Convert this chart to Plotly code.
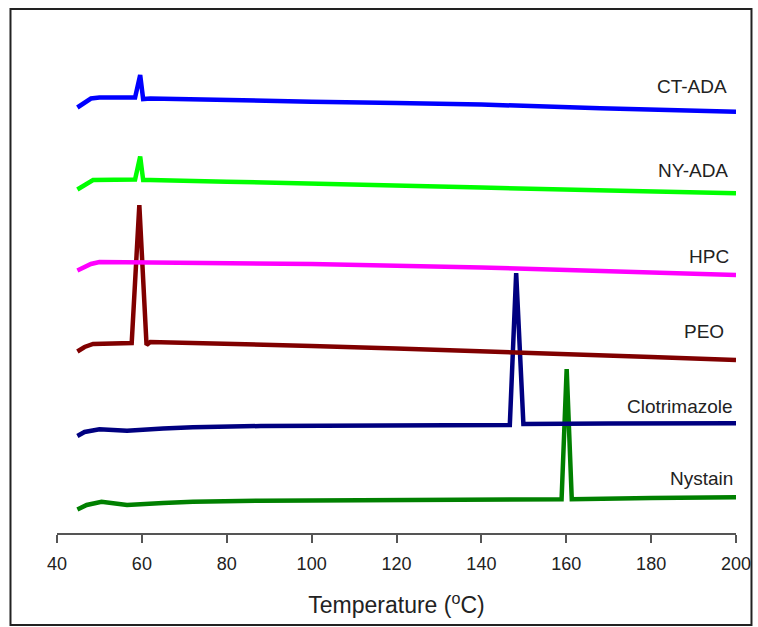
import plotly.graph_objects as go

# Temperature (°C) and offset heat-flow (a.u.)
ct_ada_t = [44.8, 46, 48, 50, 58.4, 59.6, 60.3, 62, 80, 100, 120, 140, 168, 200]
ct_ada_v = [42.55, 42.9, 43.45, 43.55, 43.55, 45.8, 43.4, 43.45, 43.35, 43.13, 43.0, 42.85, 42.47, 42.13]

ny_ada_t = [44.8, 46.5, 48.5, 58.4, 59.6, 60.3, 62, 80, 100, 140, 170, 200]
ny_ada_v = [34.35, 34.8, 35.3, 35.35, 37.65, 35.3, 35.3, 35.13, 34.97, 34.55, 34.25, 33.97]

hpc_t = [44.8, 46, 48, 50, 80, 100, 140, 170, 200]
hpc_v = [26.25, 26.5, 26.9, 27.1, 27.0, 26.9, 26.55, 26.2, 25.8]

peo_t = [44.8, 46.5, 48.5, 57.6, 59.4, 61.1, 62, 80, 100, 120, 140, 160, 180, 200]
peo_v = [18.15, 18.6, 18.9, 19.0, 32.8, 18.8, 19.1, 18.95, 18.7, 18.45, 18.2, 17.9, 17.6, 17.3]

clo_t = [44.8, 46.5, 50, 53, 56.5, 65, 72, 88, 110, 146.7, 148.2, 149.9, 170, 200]
clo_v = [9.7, 10.1, 10.37, 10.3, 10.23, 10.45, 10.57, 10.7, 10.75, 10.8, 26.0, 10.9, 10.95, 10.97]

nys_t = [44.8, 47, 50.5, 53, 56.5, 65, 72, 88, 120, 158.9, 160.1, 161.3, 180, 200]
nys_v = [2.35, 2.8, 3.13, 3.0, 2.8, 3.0, 3.13, 3.23, 3.3, 3.37, 16.4, 3.37, 3.5, 3.57]

names = ["CT-ADA", "NY-ADA", "HPC", "PEO", "Clotrimazole", "Nystain"]
colors = ["#0000FF", "#00FF00", "#FF00FF", "#800000", "#000080", "#008000"]
label_x = [198.3, 198.7, 198.8, 197.6, 199.7, 199.8]
label_y = [44.63, 36.3, 27.63, 20.2, 12.63, 5.5]

xs = [ct_ada_t, ny_ada_t, hpc_t, peo_t, clo_t, nys_t]
ys = [ct_ada_v, ny_ada_v, hpc_v, peo_v, clo_v, nys_v]

x_ticks = [40, 60, 80, 100, 120, 140, 160, 180, 200]

FONT = "Arial, Liberation Sans, sans-serif"

fig = go.Figure()
# draw bottom-up so that upper curves overlap as in the picture
order = [5, 4, 3, 2, 1, 0]
for i in order:
    fig.add_trace(go.Scatter(
        x=xs[i], y=ys[i], mode="lines", name=names[i],
        line=dict(color=colors[i], width=4.5),
        showlegend=False, hoverinfo="skip"))

for n, lx, ly in zip(names, label_x, label_y):
    fig.add_annotation(x=lx, y=ly, xref="x", yref="y", text=n, showarrow=False,
                       xanchor="right", yanchor="middle",
                       font=dict(family=FONT, size=19, color="#222222"))

# outer frame
fig.add_shape(type="rect", xref="paper", yref="paper",
              x0=-0.0685, x1=1.0228, y0=-0.1793, y1=1.0214,
              line=dict(color="#222222", width=2), fillcolor="rgba(0,0,0,0)", layer="above")

fig.update_layout(
    width=758, height=627,
    margin=dict(l=57, r=22, t=20, b=94),
    paper_bgcolor="white", plot_bgcolor="white",
    font=dict(family=FONT, color="#222222"),
    xaxis=dict(range=[40, 200], tickvals=x_ticks, ticktext=[str(v) for v in x_ticks],
               automargin=False,
               showgrid=False, zeroline=False, showline=True, linecolor="#555555", linewidth=1.5,
               ticks="outside", ticklen=8, tickwidth=1.5, tickcolor="#555555",
               ticklabelstandoff=6,
               tickfont=dict(family=FONT, size=18, color="#222222"),
               title=dict(text="Temperature (<sup>o</sup>C)", standoff=24,
                          font=dict(family=FONT, size=23, color="#222222"))),
    yaxis=dict(range=[0, 51.3], visible=False, automargin=False, showgrid=False, zeroline=False),
)

fig.write_html(
    "out.html",
    config={"displayModeBar": False},
    post_script="document.body.style.margin='0';document.body.style.overflow='hidden';",
)
